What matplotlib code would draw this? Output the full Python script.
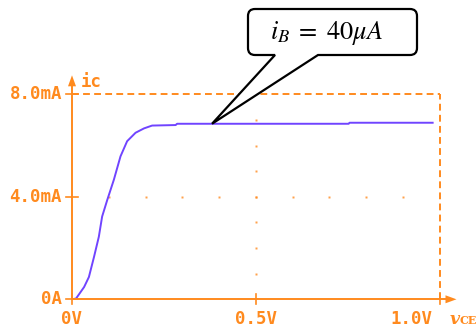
import numpy as np
import matplotlib
matplotlib.use("Agg")
import matplotlib.pyplot as plt
from matplotlib.path import Path
from matplotlib.patches import PathPatch, Polygon

# Collector current vs collector-emitter voltage (iB = 40 uA)
vce = [0.0, 0.011, 0.033, 0.046, 0.060, 0.073, 0.082, 0.096, 0.114, 0.132,
       0.150, 0.173, 0.196, 0.218, 0.282, 0.286, 0.753, 0.755, 0.984]
ic_ma = [0.0, 0.03, 0.48, 0.87, 1.66, 2.44, 3.23, 3.88, 4.67, 5.58,
         6.17, 6.50, 6.67, 6.78, 6.80, 6.85, 6.85, 6.89, 6.89]

x_ticks = [0.0, 0.5, 1.0]
x_labels = ["0V", "0.5V", "1.0V"]
y_ticks = [0.0, 4.0, 8.0]
y_labels = ["0A", "4.0mA", "8.0mA"]
callout_v = 0.381
callout_text = r"$i_B\;=\;40\mu A$"

ORANGE = "#ff8a1e"
PURPLE = "#7044ff"
W, H = 476, 327

matplotlib.rcParams["mathtext.fontset"] = "stix"

fig = plt.figure(figsize=(W / 100, H / 100), dpi=100)
fig.patch.set_facecolor("white")

x0, x1, y0, y1 = 72, 439.5, 299.3, 94.3
ax = fig.add_axes([x0 / W, (H - y0) / H, (x1 - x0) / W, (y0 - y1) / H])
ax.set_xlim(0, 1.0)
ax.set_ylim(0, 8.0)
ax.axis("off")

dash = (0, (3.5, 2.2))
lw = 1.4
# frame: solid left/bottom axes, dashed top/right
ax.plot([0, 1.0], [8.0, 8.0], color=ORANGE, lw=lw, ls=dash, clip_on=False)
ax.plot([1.0, 1.0], [0, 8.0], color=ORANGE, lw=lw, ls=dash, clip_on=False)

# grid dots along the mid lines
for v in np.arange(0.1, 1.0, 0.1):
    ax.plot(v, 4.0, marker="s", ms=1.6, color=ORANGE, mec="none", alpha=0.8)
for i in np.arange(1.0, 8.0, 1.0):
    ax.plot(0.5, i, marker="s", ms=1.6, color=ORANGE, mec="none", alpha=0.8)

ax.plot(vce, ic_ma, color=PURPLE, lw=1.4, zorder=5, solid_capstyle="butt")

# overlay in pixel coordinates for axes, arrows, labels and callout
ov = fig.add_axes([0, 0, 1, 1], zorder=10)
ov.set_xlim(0, W)
ov.set_ylim(H, 0)
ov.axis("off")
ov.patch.set_alpha(0)


def to_px(v, i):
    dx, dy = ax.transData.transform((v, i))
    return dx, H - dy


ox, oy = to_px(0, 0)
ex, _ = to_px(1.0, 0)
_, ty = to_px(0, 8.0)

ov.plot([ox, ox], [oy, ty - 12], color=ORANGE, lw=lw)
ov.plot([ox, ex + 8], [oy, oy], color=ORANGE, lw=lw)
ov.add_patch(Polygon([[ox, ty - 19], [ox - 4, ty - 8], [ox + 4, ty - 8]],
                     closed=True, color=ORANGE, lw=0))
ov.add_patch(Polygon([[ex + 17, oy], [ex + 6, oy - 4], [ex + 6, oy + 4]],
                     closed=True, color=ORANGE, lw=0))

# tick crosses
for v in x_ticks:
    px, _ = to_px(v, 0)
    ov.plot([px, px], [oy - 5, oy + 5], color=ORANGE, lw=1.2)
for i in y_ticks:
    _, py = to_px(0, i)
    ov.plot([ox - 6, ox + 6], [py, py], color=ORANGE, lw=1.2)

font = dict(family="DejaVu Sans Mono", weight="bold", size=12.5, color=ORANGE)
for v, lab in zip(x_ticks, x_labels):
    px, _ = to_px(v, 0)
    ha = "center"
    if v == x_ticks[-1]:
        px, ha = px - 7, "right"
    ov.text(px, oy + 20, lab, ha=ha, va="center", **font)
for i, lab in zip(y_ticks, y_labels):
    _, py = to_px(0, i)
    ov.text(ox - 10, py, lab, ha="right", va="center", **font)

ov.text(ox + 9, ty - 12, "ic", ha="left", va="center", **font)
ov.text(ex + 10, oy + 20, "v", ha="left", va="center", color=ORANGE,
        family="DejaVu Serif", style="italic", weight="bold", size=12.5)
ov.text(ex + 20, oy + 21, "CE", ha="left", va="center", color=ORANGE,
        family="DejaVu Serif", weight="bold", size=8)

# speech-bubble callout pointing at the curve
tip_i = float(np.interp(callout_v, vce, ic_ma))
tx, tyy = to_px(callout_v, tip_i)
bl, br, bt, bb, r = 248, 417, 9, 55, 7
pa, pb = 275, 318
verts = [(pa, bb), (bl + r, bb), (bl, bb), (bl, bb - r), (bl, bt + r),
         (bl, bt), (bl + r, bt), (br - r, bt), (br, bt), (br, bt + r),
         (br, bb - r), (br, bb), (br - r, bb), (pb, bb), (tx, tyy), (pa, bb)]
codes = [Path.MOVETO, Path.LINETO, Path.CURVE3, Path.CURVE3, Path.LINETO,
         Path.CURVE3, Path.CURVE3, Path.LINETO, Path.CURVE3, Path.CURVE3,
         Path.LINETO, Path.CURVE3, Path.CURVE3, Path.LINETO, Path.LINETO,
         Path.CLOSEPOLY]
ov.add_patch(PathPatch(Path(verts, codes), facecolor="white",
                       edgecolor="black", lw=1.6, joinstyle="miter"))
ov.text(327, (bt + bb) / 2 + 1, callout_text, ha="center",
        va="center", size=19, color="black")

fig.savefig("out.png", dpi=100)
